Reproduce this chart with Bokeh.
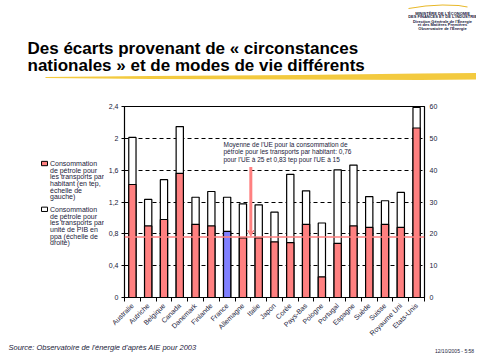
import math
from bokeh.plotting import figure
from bokeh.layouts import column, row
from bokeh.models import (Range1d, LinearAxis, FixedTicker, Label, Span, Arrow,
                          VeeHead, CustomJSTickFormatter)
from bokeh.embed import file_html
from bokeh.resources import INLINE

countries = ["Australie", "Autriche", "Belgique", "Canada", "Danemark", "Finlande",
             "France", "Allemagne", "Italie", "Japon", "Corée", "Pays-Bas", "Pologne",
             "Portugal", "Espagne", "Suède", "Suisse", "Royaume Uni", "Etats-Unis"]
# tep per inhabitant (left axis)
per_capita = [1.42, 0.90, 0.98, 1.56, 0.92, 0.90, 0.83, 0.75, 0.75, 0.70, 0.69,
              0.92, 0.26, 0.68, 0.90, 0.88, 0.92, 0.88, 2.13]
# per unit of GDP in ppp (right axis)
per_gdp = [50.3, 30.8, 37.0, 53.7, 31.5, 33.3, 31.5, 29.4, 29.1, 26.8, 38.7,
           33.5, 23.4, 40.1, 41.6, 31.7, 30.4, 33.0, 59.7]
left_ticks = [0, 0.4, 0.8, 1.2, 1.6, 2.0, 2.4]
right_ticks = [0, 10, 20, 30, 40, 50, 60]
eu_avg = 0.76
arrow_top = 1.64

RED = "#FF8080"
BLUE = "#8080FF"
FONT = "Liberation Sans"
TXT = "#1a1a3a"


def blank(w, h, x0, x1, y0, y1):
    f = figure(width=w, height=h, x_range=Range1d(x0, x1), y_range=Range1d(y1, y0),
               output_backend="svg", toolbar_location=None, x_axis_type=None,
               y_axis_type=None, min_border=0)
    f.outline_line_color = None
    f.grid.visible = False
    return f


def lab(f, t, x, y, size, **kw):
    f.add_layout(Label(x=x, y=y, text=t, text_font=kw.pop("font", FONT),
                       text_font_size=size,
                       text_baseline=kw.pop("baseline", "middle"),
                       text_color=kw.pop("color", TXT), **kw))


# ---------------- main chart ----------------
p = figure(width=372, height=242, x_range=Range1d(0, len(countries)),
           y_range=Range1d(0, 2.4), output_backend="svg", toolbar_location=None,
           min_border_left=20, min_border_right=52, min_border_top=6,
           min_border_bottom=42)
p.outline_line_color = "black"
p.outline_line_width = 1.2
p.extra_y_ranges = {"r": Range1d(0, 60)}

yax = p.yaxis[0]
yax.ticker = FixedTicker(ticks=left_ticks)
yax.formatter = CustomJSTickFormatter(code="return String(Math.round(tick*10)/10).replace('.', ',');")
yax.minor_tick_line_color = None
yax.major_tick_out = 3
yax.major_tick_in = 0
yax.major_label_text_font = FONT
yax.major_label_text_font_size = "7px"
yax.major_label_text_color = TXT
yax.major_label_standoff = 3

rax = LinearAxis(y_range_name="r", ticker=FixedTicker(ticks=right_ticks))
rax.minor_tick_line_color = None
rax.major_tick_out = 0
rax.major_tick_in = 0
rax.major_label_text_font = FONT
rax.major_label_text_font_size = "7px"
rax.major_label_text_color = TXT
rax.major_label_standoff = 5
p.add_layout(rax, "right")

xax = p.xaxis[0]
xax.ticker = FixedTicker(ticks=[i + 0.5 for i in range(len(countries))],
                         minor_ticks=list(range(len(countries) + 1)))
xax.formatter = CustomJSTickFormatter(args=dict(names=countries),
                                      code="return names[Math.floor(tick)];")
xax.major_tick_out = 0
xax.major_tick_in = 0
xax.minor_tick_out = 4
xax.minor_tick_in = 0
xax.minor_tick_line_color = "black"
xax.major_label_orientation = math.pi / 4
xax.major_label_text_font = FONT
xax.major_label_text_font_size = "7px"
xax.major_label_text_color = TXT
xax.major_label_standoff = 3

p.xgrid.visible = False
p.ygrid.ticker = FixedTicker(ticks=left_ticks[1:-1])
p.ygrid.grid_line_color = "black"
p.ygrid.grid_line_dash = "4 3"
p.ygrid.grid_line_width = 1

xs = [i + 0.5 for i in range(len(countries))]
p.vbar(x=xs, top=per_gdp, y_range_name="r", width=0.46, fill_color="white",
       line_color="black", line_width=1.2)
cols = [BLUE if c == "France" else RED for c in countries]
p.vbar(x=xs, top=per_capita, width=0.46, fill_color=cols, line_color="black",
       line_width=1.2)

p.add_layout(Span(location=eu_avg, dimension="width", line_color=RED, line_width=1.5))
ix = countries.index("Italie")
p.add_layout(Arrow(end=VeeHead(size=6, line_color=RED, fill_color=RED),
                   x_start=ix, y_start=arrow_top, x_end=ix, y_end=eu_avg + 0.01,
                   line_color=RED, line_width=3))

ann = ["Moyenne de l'UE pour la consommation de",
       "pétrole pour les transports par habitant: 0,76",
       "pour l'UE à 25 et 0,83 tep pour l'UE à 15"]
for k, t in enumerate(ann):
    p.add_layout(Label(x=223 - 124, y=300 - (146.7 + 7.5 * k), x_units="screen",
                       y_units="screen", text=t, text_font=FONT,
                       text_font_size="6.5px", text_baseline="middle",
                       text_color=TXT))

# ---------------- top band (title, logo, brush stroke) ----------------
top = blank(476, 100, 0, 476, 0, 100)
lab(top, "Des écarts provenant de « circonstances", 27, 47.5, "17px",
    text_font_style="bold", baseline="alphabetic", color="black")
lab(top, "nationales » et de modes de vie différents", 27, 65, "17px",
    text_font_style="bold", baseline="alphabetic", color="black")
bx = [45, 150, 300, 420, 476, 476, 420, 300, 150, 45]
by = [76.5, 75.5, 74.5, 73, 72.5, 79, 79.5, 79, 78.5, 77.5]
top.patch(bx, by, fill_color="#F2C42A", fill_alpha=0.9, line_color=None)
ax_ = [408, 425, 442, 458, 467, 467, 458, 442, 425, 408]
ay_ = [7.5, 5, 4, 4.5, 6, 7, 5.5, 5, 6, 8.5]
top.patch(ax_, ay_, fill_color="#E8B828", line_color=None)
for t, Y in [("MINISTÈRE DE L'ÉCONOMIE", 12.7),
             ("DES FINANCES ET DE L'INDUSTRIE", 16.2),
             ("Direction Générale de l'Énergie", 20.5),
             ("et des Matières Premières", 24),
             ("Observatoire de l'Énergie", 27.5)]:
    lab(top, t, 442, Y, "4px", text_align="center", text_font_style="bold",
        color="#202040")

# ---------------- left band (legend) ----------------
left = blank(104, 242, 0, 104, 100, 342)
left.quad(left=[41, 41], right=[47, 47], top=[169.5, 227.5], bottom=[175, 233],
          fill_color=[RED, "white"], line_color="black", line_width=1)
leg1 = ["Consommation", "de pétrole pour", "les transports par",
        "habitant (en tep,", "échelle de", "gauche)"]
leg2 = ["Consommation", "de pétrole pour", "les transports par",
        "unité de PIB en", "ppa (échelle de", "droite)"]
for k, t in enumerate(leg1):
    lab(left, t, 49.5, 172.5 + 8.4 * k, "7px")
for k, t in enumerate(leg2):
    lab(left, t, 49.5, 230.5 + 8.4 * k, "7px")

# ---------------- bottom band (source, date) ----------------
bot = blank(476, 14, 0, 476, 342, 356)
lab(bot, "Source: Observatoire de l'énergie d'après AIE pour 2003", 8, 346.5,
    "7.5px", text_font_style="italic")
lab(bot, "12/10/2005  - 5:58", 475, 350, "5px", text_align="right")

layout = column(top, row(left, p, spacing=0), bot, spacing=0)
open("out.html", "w").write(file_html(layout, INLINE))
